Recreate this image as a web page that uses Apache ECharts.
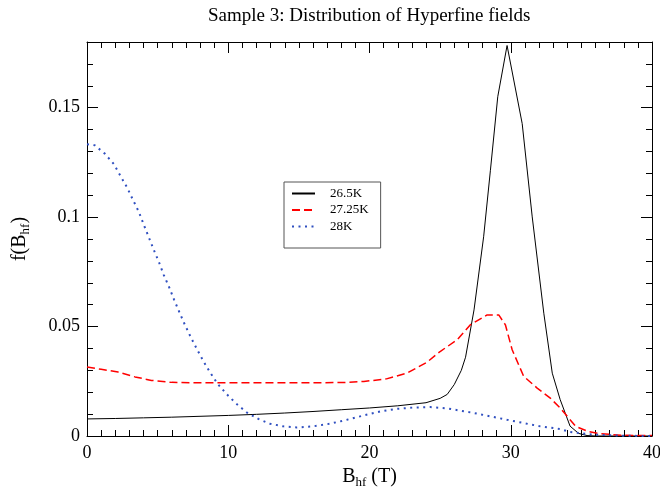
<!DOCTYPE html>
<html>
<head>
<meta charset="utf-8">
<script src="https://cdn.jsdelivr.net/npm/echarts@6/dist/echarts.min.js"></script>
<style>html,body{margin:0;padding:0;background:#fff}#c{width:660px;height:487px}</style>
</head>
<body>
<div id="c"></div>
<script>
const seriesNames = ['26.5K', '27.25K', '28K'];
const xTicks = [0, 10, 20, 30, 40];
const yTicks = [0, 0.05, 0.1, 0.15];

const x265 = [0, 2, 4, 6, 8, 10, 12, 14, 16, 18, 20, 22, 24, 25, 25.5, 26, 26.5, 26.8, 27.4, 28.08, 28.56, 29.08, 29.74, 30.81, 31.52, 32.34, 32.94, 33.5, 34.2, 34.8, 35.4, 36, 38, 40];
const y265 = [0.0078, 0.0080, 0.0083, 0.0086, 0.0090, 0.0094, 0.0099, 0.0105, 0.0112, 0.0120, 0.0128, 0.0138, 0.0152, 0.0172, 0.0190, 0.0235, 0.0300, 0.0360, 0.0576, 0.0910, 0.1214, 0.1550, 0.1784, 0.1427, 0.1001, 0.0561, 0.0287, 0.0166, 0.0045, 0.0012, 0.0002, 0, 0, 0];

const x2725 = [0, 1, 2.2, 3.4, 4.56, 6, 8, 10, 14, 18, 19.6, 21.2, 22.65, 24.07, 25.0, 26.2, 27.14, 28.33, 29.15, 29.62, 30.1, 30.92, 31.87, 32.8, 33.5, 34.6, 35.5, 36.4, 38, 40];
const y2725 = [0.0315, 0.0305, 0.0292, 0.0270, 0.0254, 0.0245, 0.0243, 0.0243, 0.0243, 0.0244, 0.0249, 0.0261, 0.0287, 0.0337, 0.0386, 0.0439, 0.0508, 0.0553, 0.0553, 0.0508, 0.0394, 0.0272, 0.0219, 0.0173, 0.0128, 0.0044, 0.0020, 0.0010, 0.0003, 0.0002];

const x28 = [0, 0.55, 1.26, 1.9, 2.37, 2.84, 3.26, 3.67, 4.02, 4.38, 4.73, 5.09, 5.44, 5.82, 6.17, 6.55, 6.93, 7.35, 7.78, 8.23, 8.7, 9.25, 9.89, 10.55, 11.3, 12.13, 12.96, 13.9, 14.85, 16.0, 17.2, 18.4, 19.6, 20.76, 21.9, 23.1, 24.3, 25.5, 27.4, 29.74, 32.1, 33.5, 34.2, 35.9, 38, 40];
const y28 = [0.1333, 0.1328, 0.1290, 0.1242, 0.1188, 0.1135, 0.1078, 0.1024, 0.0965, 0.0907, 0.0850, 0.0795, 0.0735, 0.0679, 0.0622, 0.0564, 0.0508, 0.0451, 0.0397, 0.0343, 0.0292, 0.0238, 0.0191, 0.0149, 0.0108, 0.0078, 0.0056, 0.0044, 0.0039, 0.0044, 0.0056, 0.0074, 0.0094, 0.0112, 0.0124, 0.0130, 0.0132, 0.0126, 0.0105, 0.0074, 0.0044, 0.0032, 0.0018, 0.0006, 0.0001, 0];

const pair = (xs, ys) => xs.map((x, i) => [x, ys[i]]);
const serif = 'Liberation Serif';

const chart = echarts.init(document.getElementById('c'), null, {renderer: 'canvas'});

const xMin = xTicks[0], xMax = xTicks[xTicks.length - 1], xInt = xTicks[1] - xTicks[0];
const yMin = 0, yMax = 0.18, yInt = yTicks[1] - yTicks[0];

function xAx(pos, labels) {
  return {
    type: 'value', position: pos, min: xMin, max: xMax, interval: xInt,
    axisLine: {show: true, onZero: false, lineStyle: {color: '#000', width: 1}},
    axisTick: {show: true, inside: true, length: 11, lineStyle: {color: '#000'}},
    minorTick: {show: true, splitNumber: 10, length: 6, lineStyle: {color: '#000'}},
    splitLine: {show: false},
    axisLabel: {show: labels, fontFamily: serif, fontSize: 18, color: '#000', margin: 8},
    name: labels ? 'B{sub|hf} (T)' : '',
    nameLocation: 'middle', nameGap: 26,
    nameTextStyle: {fontFamily: serif, fontSize: 20, color: '#000',
      rich: {sub: {fontFamily: serif, fontSize: 13, color: '#000', padding: [12, 0, 0, 0]}}}
  };
}
function yAx(pos, interval, major, labels) {
  return {
    type: 'value', position: pos, min: yMin, max: yMax, interval: interval,
    axisLine: {show: major, onZero: false, lineStyle: {color: '#000', width: 1}},
    axisTick: {show: true, inside: true, length: major ? 11 : 6, lineStyle: {color: '#000'}},
    splitLine: {show: false},
    axisLabel: {show: labels, showMaxLabel: false, fontFamily: serif, fontSize: 18, color: '#000', margin: 7},
    name: labels ? 'f(B{sub|hf})' : '',
    nameLocation: 'middle', nameGap: 55, nameRotate: 90,
    nameTextStyle: {fontFamily: serif, fontSize: 20, color: '#000',
      rich: {sub: {fontFamily: serif, fontSize: 13, color: '#000', padding: [12, 0, 0, 0]}}}
  };
}

chart.setOption({
  animation: false,
  backgroundColor: '#fff',
  title: {
    text: 'Sample 3: Distribution of Hyperfine fields',
    left: 203, top: 2,
    textStyle: {fontFamily: serif, fontSize: 19, fontWeight: 'normal', color: '#000'}
  },
  grid: {left: 87, right: 8, top: 42, bottom: 51, containLabel: false, outerBoundsMode: 'none'},
  legend: {
    orient: 'vertical', left: 284, top: 182,
    padding: [5, 12, 15, 7], itemGap: 3.5, itemWidth: 23, itemHeight: 14,
    borderColor: '#555', borderWidth: 1, backgroundColor: '#fff',
    itemStyle: {opacity: 0},
    textStyle: {fontFamily: serif, fontSize: 13, color: '#000', padding: [0, 0, 0, 10]},
    data: seriesNames
  },
  xAxis: [xAx('bottom', true), xAx('top', false)],
  yAxis: [yAx('left', yInt, true, true), yAx('left', 0.01, false, false), yAx('right', yInt, true, false), yAx('right', 0.01, false, false)],
  series: [
    {name: seriesNames[0], type: 'line', data: pair(x265, y265), symbol: 'none', lineStyle: {color: '#000', width: 1}, itemStyle: {color: '#000'}},
    {name: seriesNames[1], type: 'line', data: pair(x2725, y2725), symbol: 'none', lineStyle: {color: '#ff0000', width: 1.5, type: [8, 4]}, itemStyle: {color: '#ff0000'}},
    {name: seriesNames[2], type: 'line', data: pair(x28, y28), symbol: 'none', lineStyle: {color: '#2f4fc0', width: 2, type: [2, 4.5]}, itemStyle: {color: '#2f4fc0'}}
  ]
});
</script>
</body>
</html>
